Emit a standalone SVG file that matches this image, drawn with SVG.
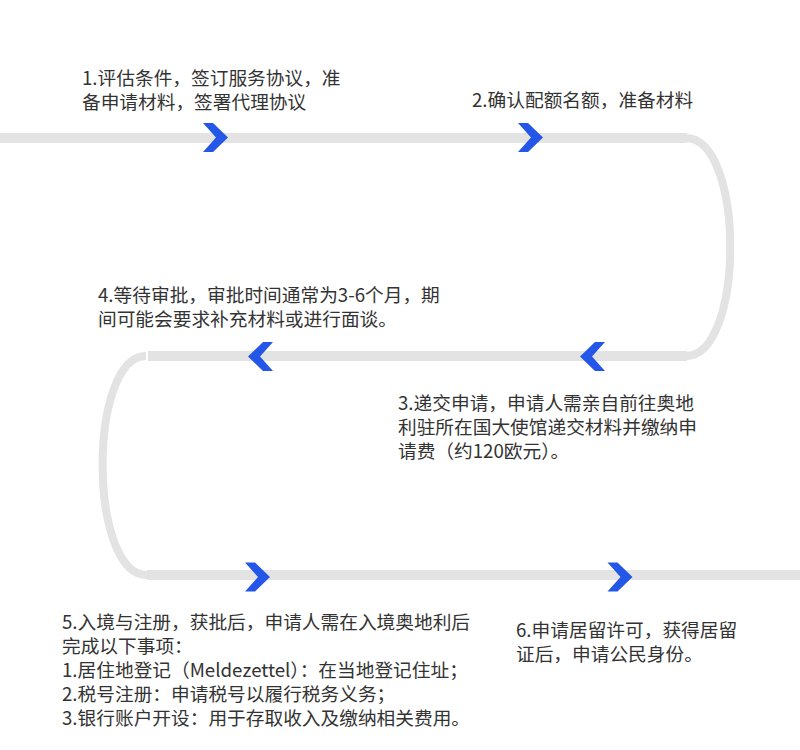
<svg xmlns="http://www.w3.org/2000/svg" xmlns:xlink="http://www.w3.org/1999/xlink" width="800" height="750" viewBox="0 0 800 750">
  <style>
    .track { fill: none; stroke: #e3e3e3; stroke-width: 10; }
    .bend { fill: none; stroke: #e3e3e3; stroke-width: 8; }
    .chev { fill: #2456e8; }
    .lbl { font-family: "Noto Sans CJK SC", "Noto Sans", sans-serif; font-size: 18.7px; fill: #333333; }
  </style>
  <defs>
    <path id="chev" d="M -12.5 -14.5 L -2.5 -14.5 L 12.5 0 L -2.5 14.5 L -12.5 14.5 L 0.5 0 Z"/>
  </defs>
  <rect width="800" height="750" fill="#ffffff"/>
  <g id="connectors">
    <path class="track" d="M 0 138 L 687 138"/>
    <path class="bend" d="M 686 138 C 745 138 745 356 686 356"/>
    <path class="track" d="M 687 356 L 148 356"/>
    <path class="bend" d="M 146 356 C 88 356 88 575 147 575"/>
    <path class="track" d="M 147 575 L 800 575"/>
    <g class="chev">
      <use xlink:href="#chev" transform="translate(215.5 137.5)"/>
      <use xlink:href="#chev" transform="translate(530.5 137.5)"/>
      <use xlink:href="#chev" transform="translate(592.5 356.5) scale(-1 1)"/>
      <use xlink:href="#chev" transform="translate(260.5 356.5) scale(-1 1)"/>
      <use xlink:href="#chev" transform="translate(257.5 577)"/>
      <use xlink:href="#chev" transform="translate(620 577)"/>
    </g>
  </g>
  <g id="step1">
    <text class="lbl" x="82" y="85"><tspan x="82" y="85">1.评估条件，签订服务协议，准</tspan><tspan x="82" y="109">备申请材料，签署代理协议</tspan></text>
  </g>
  <g id="step2">
    <text class="lbl" x="472" y="107">2.确认配额名额，准备材料</text>
  </g>
  <g id="step3">
    <text class="lbl" x="398" y="410"><tspan x="398" y="410">3.递交申请，申请人需亲自前往奥地</tspan><tspan x="398" y="434">利驻所在国大使馆递交材料并缴纳申</tspan><tspan x="398" y="458">请费（约120欧元）。</tspan></text>
  </g>
  <g id="step4">
    <text class="lbl" x="98" y="302"><tspan x="98" y="302">4.等待审批，审批时间通常为3-6个月，期</tspan><tspan x="98" y="326">间可能会要求补充材料或进行面谈。</tspan></text>
  </g>
  <g id="step5">
    <text class="lbl" x="62" y="629"><tspan x="62" y="629">5.入境与注册，获批后，申请人需在入境奥地利后</tspan><tspan x="62" y="653">完成以下事项：</tspan><tspan x="62" y="677">1.居住地登记（Meldezettel）：在当地登记住址；</tspan><tspan x="62" y="701">2.税号注册：申请税号以履行税务义务；</tspan><tspan x="62" y="725">3.银行账户开设：用于存取收入及缴纳相关费用。</tspan></text>
  </g>
  <g id="step6">
    <text class="lbl" x="516" y="637"><tspan x="516" y="637">6.申请居留许可，获得居留</tspan><tspan x="516" y="661">证后，申请公民身份。</tspan></text>
  </g>
</svg>
